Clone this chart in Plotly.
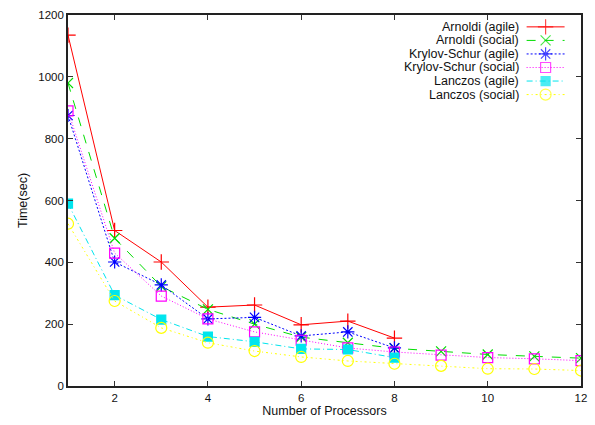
import plotly.graph_objects as go

procs = [1, 2, 3, 4, 5, 6, 7, 8, 9, 10, 11, 12]
procs_agile = [1, 2, 3, 4, 5, 6, 7, 8]

arnoldi_agile = [1135, 503, 401, 255, 262, 198, 210, 155]
arnoldi_social = [980, 478, 322, 248, 200, 158, 140, 122, 112, 102, 96, 90]
krylov_agile = [875, 401, 327, 217, 222, 162, 175, 123]
krylov_social = [890, 430, 291, 217, 175, 148, 123, 110, 100, 92, 88, 82]
lanczos_agile = [590, 294, 215, 160, 143, 120, 118, 92]
lanczos_social = [525, 275, 188, 140, 113, 94, 81, 72, 65, 56, 55, 50]

names = ["Arnoldi (agile)", "Arnoldi (social)", "Krylov-Schur (agile)",
         "Krylov-Schur (social)", "Lanczos (agile)", "Lanczos (social)"]

series = [
    (procs_agile, arnoldi_agile, "#ff0000", "solid", "cross-thin-open", 11),
    (procs, arnoldi_social, "#00dd00", "dash", "x-thin-open", 10),
    (procs_agile, krylov_agile, "#0000ff", "2px,2px", "asterisk-open", 11),
    (procs, krylov_social, "#ff00ff", "1px,2px", "square-open", 10),
    (procs_agile, lanczos_agile, "#00e5ee", "6px,3px,1px,3px", "square", 9),
    (procs, lanczos_social, "#ffff00", "2px,3px,1px,3px", "circle-open", 11),
]

fig = go.Figure()
for (xs, ys, col, dash, sym, sz), nm in zip(series, names):
    fig.add_trace(go.Scatter(
        x=xs, y=ys, mode="lines+markers", name=nm, showlegend=False,
        line=dict(color=col, width=1, dash=dash),
        marker=dict(symbol=sym, size=sz, color=col, line=dict(color=col, width=1.2)),
    ))

# custom legend (text on left, sample on right, gnuplot style)
leg_x0, leg_xm, leg_x1 = 0.894, 0.931, 0.968
leg_top, leg_step = 0.968, 0.0365
for i, ((xs, ys, col, dash, sym, sz), nm) in enumerate(zip(series, names)):
    yy = leg_top - i * leg_step
    fig.add_trace(go.Scatter(
        x=[leg_x0, leg_xm, leg_x1], y=[yy, yy, yy], mode="lines+markers",
        xaxis="x2", yaxis="y2", showlegend=False, hoverinfo="skip",
        line=dict(color=col, width=1, dash=dash),
        marker=dict(symbol=sym, size=[0, sz, 0], color=col, line=dict(color=col, width=1.2)),
    ))
    fig.add_annotation(x=0.881, y=yy, xref="paper", yref="paper", text=nm,
                       showarrow=False, xanchor="right", yanchor="middle",
                       borderpad=0, font=dict(size=12.5, color="#111"))

axis_common = dict(showgrid=False, zeroline=False, showline=True, linecolor="#222",
                   linewidth=1.6, mirror="ticks", ticks="inside", ticklen=5,
                   tickcolor="#333", tickwidth=1)

fig.update_layout(
    width=595, height=425,
    margin=dict(l=68, r=8, t=15, b=39),
    paper_bgcolor="white", plot_bgcolor="white",
    font=dict(family="Liberation Sans, Arial, sans-serif", size=11.5, color="#111"),
    xaxis=dict(range=[1, 12], tickvals=[2, 4, 6, 8, 10, 12],
               title=dict(text="Number of Processors", standoff=4, font=dict(size=12.5)),
               **axis_common),
    yaxis=dict(range=[0, 1200], tickvals=[0, 200, 400, 600, 800, 1000, 1200],
               title=dict(text="Time(sec)", standoff=8, font=dict(size=12.5)),
               **axis_common),
    xaxis2=dict(range=[0, 1], overlaying="x", visible=False),
    yaxis2=dict(range=[0, 1], overlaying="y", visible=False),
)

fig.write_html("out.html")
